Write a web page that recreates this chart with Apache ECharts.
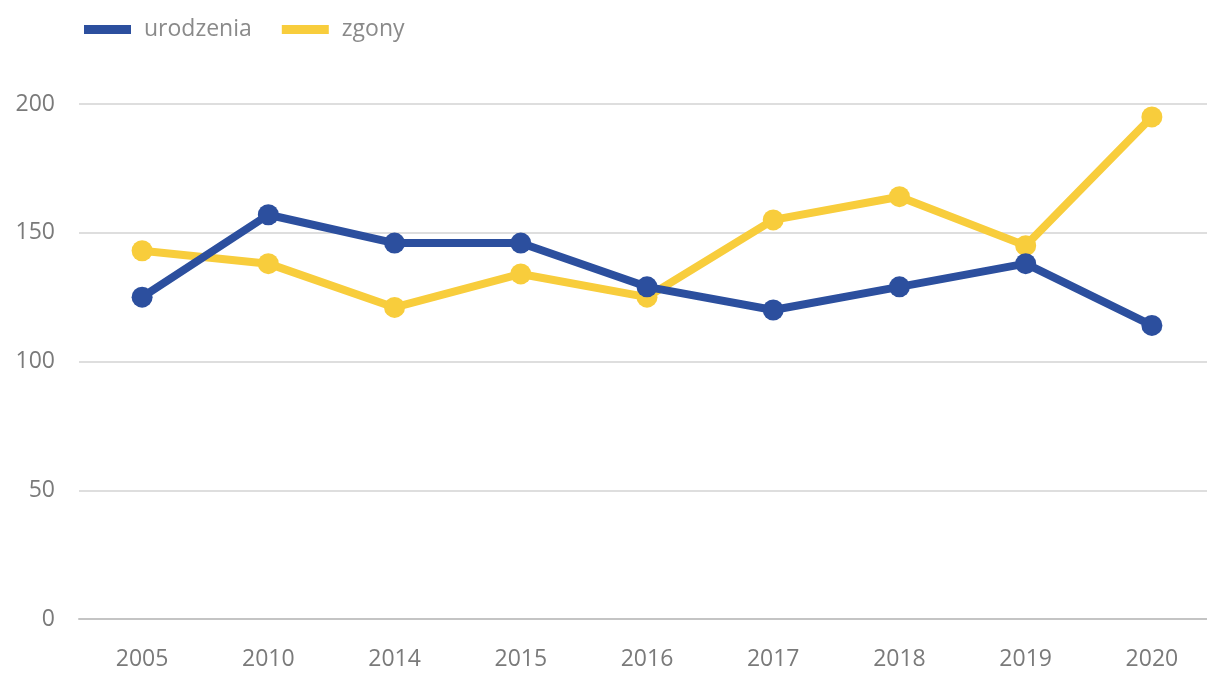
<!DOCTYPE html>
<html><head><meta charset="utf-8">
<script src="https://cdn.jsdelivr.net/npm/echarts@6/dist/echarts.min.js"></script>
<style>html,body{margin:0;padding:0;background:#fff}#c{width:1207px;height:673px}</style>
</head><body><div id="c"></div>
<script>
const categories = ['2005','2010','2014','2015','2016','2017','2018','2019','2020'];
const urodzenia = [125, 157, 146, 146, 129, 120, 129, 138, 114];
const zgony = [143, 138, 121, 134, 125, 155, 164, 145, 195];
const yTicks = [0, 50, 100, 150, 200];

const chart = echarts.init(document.getElementById('c'), null, {renderer: 'canvas'});
const font = "'Open Sans', 'Noto Sans', sans-serif";
chart.setOption({
  animation: false,
  textStyle: {fontFamily: font},
  legend: {
    left: 79, top: 13,
    itemWidth: 47, itemHeight: 9, itemGap: 30,
    icon: 'rect',
    textStyle: {fontSize: 23, color: '#8a8a8a', fontFamily: font, padding: [0, 0, 0, 8]},
    data: ['urodzenia', 'zgony']
  },
  grid: {left: 79, width: 1136, top: 104, bottom: 54, outerBoundsMode: 'none', containLabel: false},
  xAxis: {
    type: 'category', data: categories, boundaryGap: true,
    axisLine: {lineStyle: {color: '#c4c4c4', width: 2}},
    axisTick: {show: false},
    axisLabel: {fontSize: 23, color: '#7a7a7a', margin: 29, fontFamily: font}
  },
  yAxis: {
    type: 'value', min: yTicks[0], max: yTicks[yTicks.length-1], interval: 50,
    axisLine: {show: false}, axisTick: {show: false},
    splitLine: {lineStyle: {color: '#dedede', width: 2}},
    axisLabel: {fontSize: 23, color: '#7a7a7a', margin: 24, fontFamily: font}
  },
  series: [
    {name: 'urodzenia', type: 'line', data: urodzenia, z: 3,
     symbol: 'circle', symbolSize: 21,
     lineStyle: {width: 8, color: '#2c4f9e'}, itemStyle: {color: '#2c4f9e'}},
    {name: 'zgony', type: 'line', data: zgony, z: 2,
     symbol: 'circle', symbolSize: 21,
     lineStyle: {width: 8, color: '#f8cd3c'}, itemStyle: {color: '#f8cd3c'}}
  ]
});
</script></body></html>
